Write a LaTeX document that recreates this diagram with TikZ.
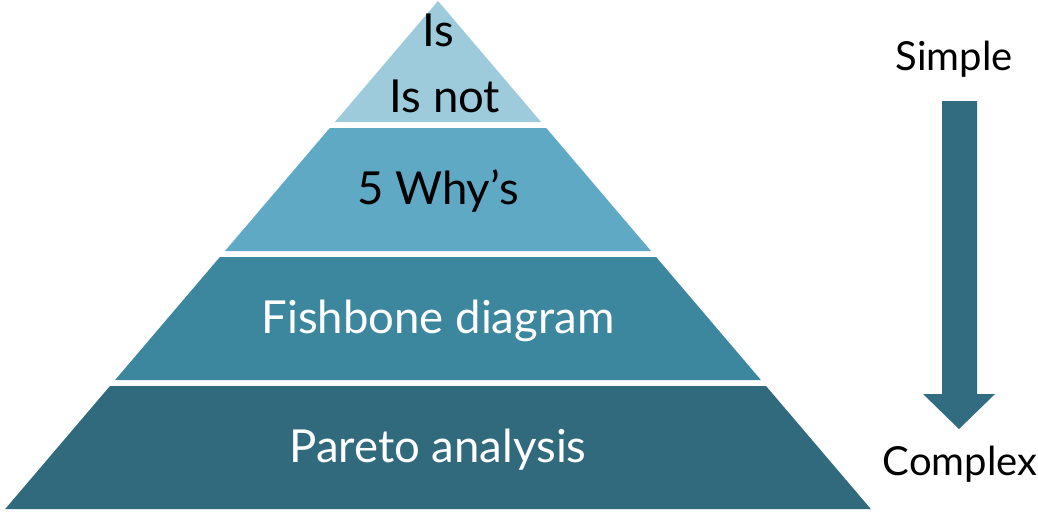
\documentclass[tikz,border=0pt]{standalone}
\usepackage{fontspec}
\setmainfont{Lato}
\definecolor{tierA}{HTML}{9DCBDB}
\definecolor{tierB}{HTML}{5FA9C4}
\definecolor{tierC}{HTML}{3C869E}
\definecolor{tierD}{HTML}{326A7D}
\definecolor{arrowblue}{HTML}{316C80}
\begin{document}
\begin{tikzpicture}[x=1pt,y=-1pt,
  lbl/.style={inner sep=0pt,anchor=center,font=\fontsize{45.5}{48}\selectfont},
  side/.style={inner sep=0pt,anchor=center,font=\fontsize{40}{42}\selectfont}]
\useasboundingbox (0,0) rectangle (1038,515);
% pyramid: apex (438,1), slope 0.852 px per px, bands separated by white gaps
\def\ax{438}\def\ay{1}\def\sl{0.852}
\foreach \ya/\yb/\col in {1/122/tierA,128/251/tierB,257/380/tierC,386/509/tierD}{
  \pgfmathsetmacro\wa{\sl*(\ya-\ay)}
  \pgfmathsetmacro\wb{\sl*(\yb-\ay)}
  \fill[\col] (\ax-\wa,\ya) -- (\ax+\wa,\ya) -- (\ax+\wb,\yb) -- (\ax-\wb,\yb) -- cycle;
}
\node[lbl] (is) at (438,30) {Is};
\node[lbl] (isnot) at (445,96) {Is not};
\node[lbl] (why) at (438,191) {5 Why’s};
\node[lbl,text=white] (fish) at (438,321) {Fishbone diagram};
\node[lbl,text=white] (pareto) at (438,450) {Pareto analysis};
\node[side] (simple) at (954,59) {Simple};
\node[side] (complex) at (960,464) {Complex};
% direction arrow
\fill[arrowblue] (942,101) -- (977,101) -- (977,394) -- (995,394) -- (959,429) -- (923,394) -- (942,394) -- cycle;
\end{tikzpicture}
\end{document}
